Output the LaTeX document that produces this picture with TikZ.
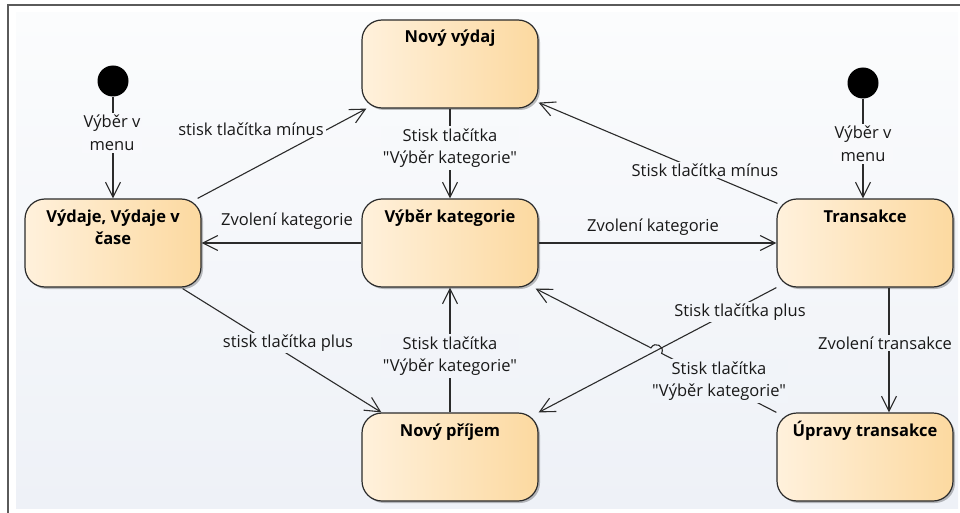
\documentclass[tikz,border=0pt]{standalone}
\usepackage{fontspec}
\setmainfont{Open Sans}[Ligatures=TeXOff]
\usetikzlibrary{arrows.meta,shadows,calc}
\definecolor{bgtop}{HTML}{FBFCFD}
\definecolor{bgbot}{HTML}{EEF1F7}
\definecolor{stL}{HTML}{FFF1DC}
\definecolor{stR}{HTML}{FCD9A0}
\definecolor{ink}{HTML}{2B2B2B}
\definecolor{framecol}{HTML}{5A5A5A}
% state title: bold text pinned to the top edge of the box
\newcommand\sttitle[1]{\parbox[t][88pt][t]{176pt}{\centering\bfseries\fontsize{16.5}{22}\selectfont\rule{0pt}{23pt}#1\par}}
\begin{document}
\begin{tikzpicture}[x=1pt,y=-1pt,
  state/.style={rectangle, rounded corners=20pt, draw=ink, line width=1.2pt,
    minimum width=176pt, minimum height=88pt, inner sep=0pt,
    left color=stL, right color=stR,
    drop shadow={shadow xshift=2pt,shadow yshift=-2pt,opacity=0.25,fill=black}},
  start/.style={circle, fill=black, minimum size=31pt, inner sep=0pt},
  conn/.style={draw=ink, line width=1.1pt, -{Straight Barb[length=15pt,width=15pt]}},
  % label background follows the canvas gradient (argument: percent towards the bottom)
  lbl/.style={fill=bgbot!#1!bgtop, inner sep=2pt, align=center, text=black!90,
    font=\fontsize{16.5}{22.5}\selectfont},
]
\useasboundingbox (0,0) rectangle (960,513);
% canvas
\shade[top color=bgtop, bottom color=bgbot] (16,13) rectangle (958,508);
\draw[line width=2pt, framecol] (8,513) -- (8,5) -- (960,5);

% initial pseudo-states
\node[start] (i1) at (113,81) {};
\node[start] (i2) at (863,83) {};

% states
\node[state] (nv) at (450,64)  {\sttitle{Nový výdaj}};
\node[state] (vy) at (113,243) {\sttitle{Výdaje, Výdaje v\\čase}};
\node[state] (vk) at (450,243) {\sttitle{Výběr kategorie}};
\node[state] (tr) at (865,243) {\sttitle{Transakce}};
\node[state] (np) at (450,457) {\sttitle{Nový příjem}};
\node[state] (ut) at (865,457) {\sttitle{Úpravy transakce}};

% jump over the crossing connector
\coordinate (hopA) at (661.6,353.4);
\coordinate (hopB) at (651.0,347.9);

% transitions
\draw[conn] (i1) -- (vy);
\draw[conn] (i2) -- (i2 |- tr.north);
\draw[conn] ($(vy.north east)+(-4,0)$) -- ($(nv.south west)+(5,0)$);
\draw[conn] (nv) -- (vk);
\draw[conn] (vk) -- (vy);
\draw[conn] (vk) -- (tr);
\draw[conn] ($(tr.north west)+(1,5)$) -- ($(nv.south east)+(0,-6)$);
\draw[conn] ($(vy.south east)+(-19,1)$) -- ($(np.north west)+(20,0)$);
\draw[conn] (np) -- (vk);
\draw[conn] (tr.south west) -- (np.north east);
\draw[conn] (ut.north west) -- (hopA)
  .. controls (665.3,346.3) and (654.7,340.8) .. (hopB)
  -- ($(vk.south east)+(-3,1)$);
\draw[conn] ($(tr.south)+(24,0)$) -- ($(ut.north)+(24,0)$);

% transition labels
\node[lbl=24] (l1)  at (112,133) {Výběr v\\menu};
\node[lbl=23] (l2)  at (251,129) {stisk tlačítka mínus};
\node[lbl=27] (l3)  at (450,148) {Stisk tlačítka\\"Výběr kategorie"};
\node[lbl=42] (l4)  at (287,221) {Zvolení kategorie};
\node[lbl=43] (l5)  at (653,227) {Zvolení kategorie};
\node[lbl=32] (l6)  at (705,170) {Stisk tlačítka mínus};
\node[lbl=26] (l7)  at (863,144) {Výběr v\\menu};
\node[lbl=67] (l8)  at (288,343) {stisk tlačítka plus};
\node[lbl=69] (l9)  at (450,356) {Stisk tlačítka\\"Výběr kategorie"};
\node[lbl=60] (l10) at (740,312) {Stisk tlačítka plus};
\node[lbl=74] (l11) at (719,381) {Stisk tlačítka\\"Výběr kategorie"};
\node[lbl=67] (l12) at (885,343) {Zvolení transakce};
\end{tikzpicture}
\end{document}
